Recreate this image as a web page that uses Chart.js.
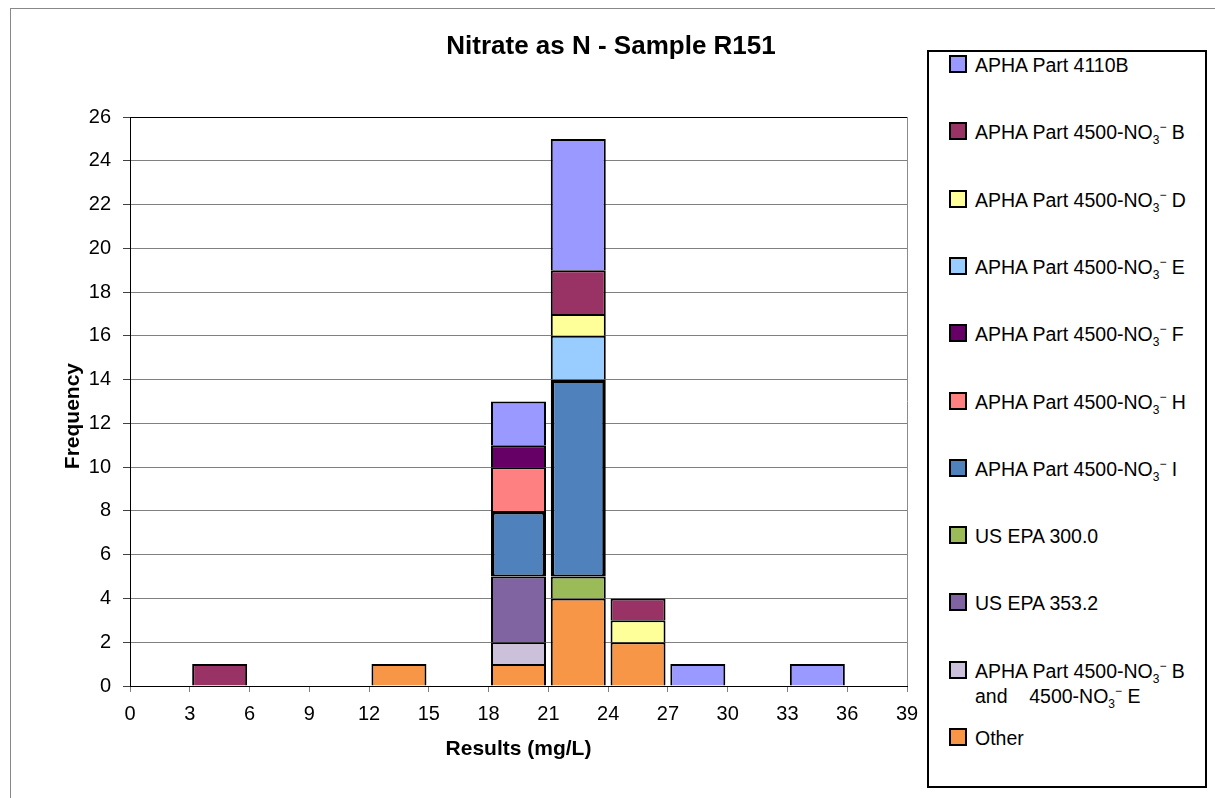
<!DOCTYPE html>
<html>
<head>
<meta charset="utf-8">
<script src="https://cdn.jsdelivr.net/npm/chart.js@4/dist/chart.umd.min.js"></script>
<style>
  body { margin: 0; width: 1215px; height: 798px; overflow: hidden; background: #fff; font-family: Arial, "Liberation Sans", sans-serif; }
  #frame { position: absolute; left: 10px; top: 8px; width: 1300px; height: 900px; border: 1px solid #888; }
  #chart { position: absolute; left: 0; top: 0; }
  #legend { position: absolute; left: 927px; top: 50px; width: 276px; height: 734px; border: 2px solid #000; background: #fff; }
  .item { position: absolute; left: 20px; font-size: 19.5px; line-height: 22px; color: #000; white-space: pre; }
  .sw { position: absolute; left: 0; top: 1px; width: 14px; height: 14px; border: 2px solid #000; }
  .txt { position: absolute; left: 26px; top: 0; }
  .sub { font-size: 12px; position: relative; top: 5px; }
  .sup { font-size: 12px; position: relative; top: -8px; }
</style>
</head>
<body>
<div id="frame"></div>
<canvas id="chart" width="1215" height="798"></canvas>
<div id="legend"></div>
<script>
// Nitrate as N - Sample R151: stacked histogram of results by method

// bin edges (mg/L), also the x tick labels
const binEdges = [0, 3, 6, 9, 12, 15, 18, 21, 24, 27, 30, 33, 36, 39];
const yTicks = [0, 2, 4, 6, 8, 10, 12, 14, 16, 18, 20, 22, 24, 26];

// counts per bin (13 bins: 0-3, 3-6, ... 36-39)
const apha4110B   = [0, 0, 0, 0, 0, 0, 2, 6, 0, 1, 0, 1, 0];
const apha4500B   = [0, 1, 0, 0, 0, 0, 0, 2, 1, 0, 0, 0, 0];
const apha4500D   = [0, 0, 0, 0, 0, 0, 0, 1, 1, 0, 0, 0, 0];
const apha4500E   = [0, 0, 0, 0, 0, 0, 0, 2, 0, 0, 0, 0, 0];
const apha4500F   = [0, 0, 0, 0, 0, 0, 1, 0, 0, 0, 0, 0, 0];
const apha4500H   = [0, 0, 0, 0, 0, 0, 2, 0, 0, 0, 0, 0, 0];
const apha4500I   = [0, 0, 0, 0, 0, 0, 3, 9, 0, 0, 0, 0, 0];
const usEpa3000   = [0, 0, 0, 0, 0, 0, 0, 1, 0, 0, 0, 0, 0];
const usEpa3532   = [0, 0, 0, 0, 0, 0, 3, 0, 0, 0, 0, 0, 0];
const apha4500BE  = [0, 0, 0, 0, 0, 0, 1, 0, 0, 0, 0, 0, 0];
const other       = [0, 0, 0, 0, 1, 0, 1, 4, 2, 0, 0, 0, 0];

// legend order (top to bottom)
const seriesNames = [
  'APHA Part 4110B',
  'APHA Part 4500-NO₃⁻ B',
  'APHA Part 4500-NO₃⁻ D',
  'APHA Part 4500-NO₃⁻ E',
  'APHA Part 4500-NO₃⁻ F',
  'APHA Part 4500-NO₃⁻ H',
  'APHA Part 4500-NO₃⁻ I',
  'US EPA 300.0',
  'US EPA 353.2',
  'APHA Part 4500-NO₃⁻ B\nand    4500-NO₃⁻ E',
  'Other'
];
const seriesData = [apha4110B, apha4500B, apha4500D, apha4500E, apha4500F, apha4500H,
  apha4500I, usEpa3000, usEpa3532, apha4500BE, other];
const seriesColors = ['#9999FF', '#993366', '#FFFF99', '#99CCFF', '#660066', '#FF8080',
  '#4F81BD', '#9BBB59', '#8064A2', '#CCC1DA', '#F79646'];

const chartTitle = 'Nitrate as N - Sample R151';
const FONT = 'Arial, "Liberation Sans", sans-serif';

// build datasets, bottom of stack first
const datasets = [];
for (let s = seriesNames.length - 1; s >= 0; s--) {
  const thick = seriesNames[s].endsWith(' I');
  datasets.push({
    label: seriesNames[s],
    data: seriesData[s]
      .map((c, i) => ({ x: (binEdges[i] + binEdges[i + 1]) / 2, y: c }))
      .filter(p => p.y > 0),
    backgroundColor: seriesColors[s],
    borderColor: '#000',
    borderWidth: thick ? { top: 3.5, left: 3.5, right: 3.5, bottom: 2 } : { top: 2, left: 2, right: 2, bottom: 0 },
    borderSkipped: false,
    categoryPercentage: 1,
    barPercentage: 0.92
  });
}

// title sits over the chart + legend block, not just the plot area
const titlePlugin = {
  id: 'fixedTitle',
  afterDraw(chart) {
    const ctx = chart.ctx;
    ctx.save();
    ctx.font = 'bold 26px ' + FONT;
    ctx.fillStyle = '#000';
    ctx.textAlign = 'center';
    ctx.textBaseline = 'middle';
    ctx.fillText(chartTitle, 611, 47);
    ctx.restore();
  }
};

new Chart(document.getElementById('chart'), {
  type: 'bar',
  data: { datasets },
  plugins: [titlePlugin],
  options: {
    responsive: false,
    animation: false,
    layout: { padding: { left: 0, right: 308, top: 117, bottom: 0 } },
    plugins: {
      legend: { display: false },
      tooltip: { enabled: false }
    },
    scales: {
      x: {
        type: 'linear',
        min: 0,
        max: 39,
        offset: false,
        stacked: true,
        afterBuildTicks: s => { s.ticks = binEdges.map(v => ({ value: v })); },
        afterFit: s => { s.height = 112; },
        ticks: { color: '#000', font: { family: FONT, size: 20 }, padding: 10, maxRotation: 0, autoSkip: false },
        grid: {
          offset: false,
          drawOnChartArea: true,
          color: c => (c.tick && c.tick.value === 39 ? '#8c8c8c' : 'rgba(0,0,0,0)'),
          tickColor: '#808080',
          tickLength: 6
        },
        border: { color: '#000', width: 1 },
        title: {
          display: true,
          text: 'Results (mg/L)',
          color: '#000',
          font: { family: FONT, size: 21, weight: 'bold' },
          padding: { top: 0, bottom: 36 }
        }
      },
      y: {
        min: 0,
        max: 26,
        stacked: true,
        afterBuildTicks: s => { s.ticks = yTicks.map(v => ({ value: v })); },
        afterFit: s => { s.width = 130; },
        ticks: { color: '#000', font: { family: FONT, size: 20 }, padding: 12 },
        grid: {
          color: c => (c.tick && c.tick.value === 26 ? '#000' : '#808080'),
          tickColor: '#404040',
          tickLength: 7
        },
        border: { color: '#000', width: 1 },
        title: {
          display: true,
          text: 'Frequency     ',
          color: '#000',
          font: { family: FONT, size: 21, weight: 'bold' },
          padding: { top: 61, bottom: 0 }
        }
      }
    }
  }
});

// HTML legend with subscript / superscript
function legendHtml(name) {
  return name.replace(/NO₃⁻/g, 'NO<span class="sub">3</span><span class="sup">−</span>');
}
const legend = document.getElementById('legend');
seriesNames.forEach((name, i) => {
  const item = document.createElement('div');
  item.className = 'item';
  item.style.top = (2 + i * 67.3) + 'px';
  item.innerHTML = '<div class="sw" style="background:' + seriesColors[i] + '"></div>' +
    '<div class="txt">' + legendHtml(name) + '</div>';
  legend.appendChild(item);
});
</script>
</body>
</html>
